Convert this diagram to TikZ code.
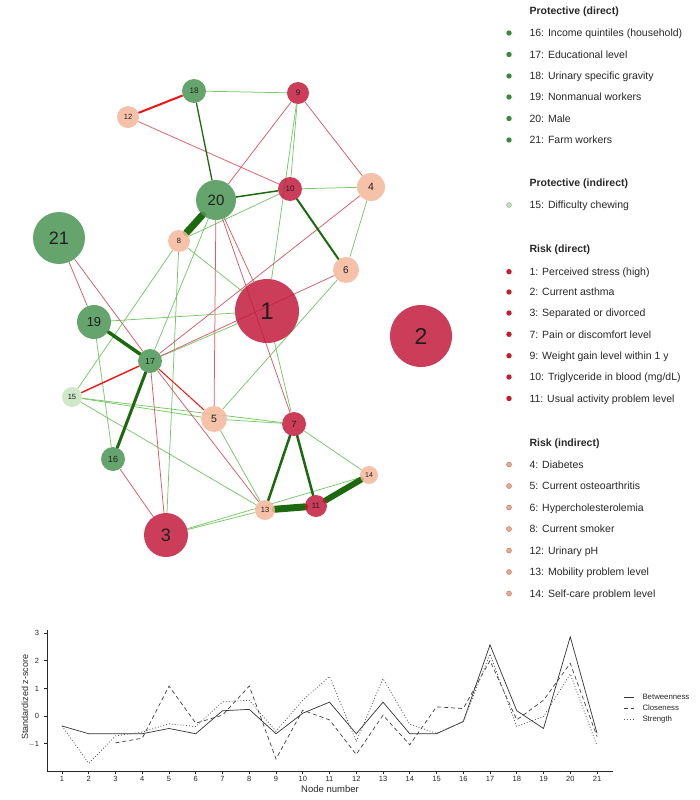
\documentclass[tikz,border=0pt]{standalone}
\usepackage{fontspec}
\setmainfont{Liberation Sans}
\usetikzlibrary{backgrounds}
\definecolor{cRD}{RGB}{194,28,60}
\definecolor{cRI}{RGB}{244,184,154}
\definecolor{cPD}{RGB}{75,150,84}
\definecolor{cPI}{RGB}{198,228,191}
\definecolor{eLG}{RGB}{120,200,105}
\definecolor{eDG}{RGB}{28,105,14}
\definecolor{eLR}{RGB}{215,92,104}
\definecolor{eBR}{RGB}{240,20,20}
\definecolor{bPD}{RGB}{58,138,60}
\definecolor{bRD}{RGB}{196,30,40}
\definecolor{bRI}{RGB}{240,168,140}
\definecolor{txt}{RGB}{40,40,40}
\tikzset{
  vtx/.style={circle, inner sep=0pt, fill opacity=0.85, text opacity=1, text=black!88},
  eg/.style={draw=eLG, line width=0.75pt},
  er/.style={draw=eLR, line width=0.75pt},
  ebr/.style={draw=eBR, line width=#1},
  edg/.style={draw=eDG, line width=#1, line cap=round},
  legtxt/.style={anchor=base west, text=txt, font=\fontsize{10.5}{12}\selectfont},
  leghead/.style={anchor=base west, text=txt, font=\fontsize{10.5}{12}\selectfont\bfseries},
  tick/.style={font=\fontsize{7.5}{9}\selectfont, text=txt},
  axl/.style={draw=black!85, line width=0.6pt},
  serB/.style={draw=black!80, line width=0.7pt},
  serC/.style={draw=black!75, line width=0.7pt, dash pattern=on 4pt off 3pt},
  serS/.style={draw=black!65, line width=0.8pt, dash pattern=on 0.9pt off 2pt},
}
\newcommand\vx[6]{\node[vtx, fill=#6, minimum size=#4*2pt, font=\fontsize{#5}{#5}\selectfont] (n#1) at (#2,#3) {#1};}
\newcommand\lbul[3]{\fill[#3] (509,#1) circle (2.7pt); \node[legtxt] (#2) at (526,#1+3.8) }
\begin{document}
\begin{tikzpicture}[x=1pt,y=-1pt]
\useasboundingbox (0,0) rectangle (699,800);
% nodes
\vx{1}{267}{311}{32}{24}{cRD}
\vx{2}{421}{336}{31}{23}{cRD}
\vx{3}{166}{535}{22}{18}{cRD}
\vx{4}{371}{187}{14}{10.5}{cRI}
\vx{5}{214}{419}{13}{10.5}{cRI}
\vx{6}{346}{270}{13}{10}{cRI}
\vx{7}{294}{424}{12}{9}{cRD}
\vx{8}{179}{241}{11}{7.5}{cRI}
\vx{9}{298}{93}{11}{8}{cRD}
\vx{10}{290}{189}{12}{8}{cRD}
\vx{11}{316}{506}{11}{7.8}{cRD}
\vx{12}{128}{117}{11}{7.5}{cRI}
\vx{13}{265}{510}{10}{7.5}{cRI}
\vx{14}{369}{475}{9}{7}{cRI}
\vx{15}{72}{397}{10}{7.5}{cPI}
\vx{16}{113}{459}{12}{9}{cPD}
\vx{17}{150}{361}{12}{8.8}{cPD}
\vx{18}{194}{91}{12}{8}{cPD}
\vx{19}{94}{322}{17}{13}{cPD}
\vx{20}{216}{200}{20}{15}{cPD}
\vx{21}{59}{238}{26}{18}{cPD}
\begin{pgfonlayer}{background}
\fill[white] (0,0) rectangle (699,800);
% thin green
\foreach \a/\b in {18/9, 9/10, 9/1, 20/17, 10/4, 10/8, 4/6, 8/15, 8/3, 8/1, 6/5, 19/1, 19/16, 17/1, 15/5, 15/7, 15/13, 5/7, 5/13, 1/7, 7/14, 3/13, 3/14}
  \draw[eg] (n\a) -- (n\b);
% thin red
\foreach \a/\b in {12/10, 9/20, 9/4, 4/17, 6/17, 20/5, 20/7, 20/1, 21/19, 21/17, 17/13, 17/3, 16/3}
  \draw[er] (n\a) -- (n\b);
% bright red
\draw[ebr=2pt] (n12) -- (n18);
\draw[ebr=1.4pt] (n17) -- (n15);
\draw[ebr=1pt] (n17) -- (n5);
% dark green
\draw[edg=1.3pt] (n18) -- (n20);
\draw[edg=1.5pt] (n20) -- (n10);
\draw[edg=2pt] (n10) -- (n6);
\draw[edg=3.5pt] (n19) -- (n17);
\draw[edg=3pt] (n17) -- (n16);
\draw[edg=2.5pt] (n7) -- (n13);
\draw[edg=2.5pt] (n7) -- (n11);
\draw[edg=7pt] (n20) -- (n8);
\draw[edg=7pt] (n13) -- (n11);
\draw[edg=6pt] (n11) -- (n14);
\end{pgfonlayer}
% legend
\node[leghead] (hPD) at (526,14.8) {Protective (direct)};
\lbul{33}{l16}{bPD} {16: Income quintiles (household)};
\lbul{54.5}{l17}{bPD} {17: Educational level};
\lbul{76}{l18}{bPD} {18: Urinary specific gravity};
\lbul{97}{l19}{bPD} {19: Nonmanual workers};
\lbul{118.5}{l20}{bPD} {20: Male};
\lbul{140}{l21}{bPD} {21: Farm workers};
\node[leghead] (hPI) at (526,186.8) {Protective (indirect)};
\fill[cPI, draw=bPD!70, line width=0.5pt] (509,205) circle (2.4pt);
\node[legtxt] (l15) at (526,208.8) {15: Difficulty chewing};
\node[leghead] (hRD) at (526,252) {Risk (direct)};
\lbul{271.7}{l1}{bRD} {1: Perceived stress (high)};
\lbul{292}{l2}{bRD} {2: Current asthma};
\lbul{313}{l3}{bRD} {3: Separated or divorced};
\lbul{334.3}{l7}{bRD} {7: Pain or discomfort level};
\lbul{355.7}{l9}{bRD} {9: Weight gain level within 1 y};
\lbul{377}{l10}{bRD} {10: Triglyceride in blood (mg/dL)};
\lbul{398.5}{l11}{bRD} {11: Usual activity problem level};
\node[leghead] (hRI) at (526,446) {Risk (indirect)};
\foreach \yy/\tt in {464.5/{4: Diabetes}, 486/{5: Current osteoarthritis}, 507.5/{6: Hypercholesterolemia}, 529/{8: Current smoker}, 550.5/{12: Urinary pH}, 572/{13: Mobility problem level}, 593.5/{14: Self-care problem level}}{
  \fill[bRI, draw=bRI!70!black, line width=0.4pt] (509,\yy) circle (2.5pt);
  \node[legtxt] at (526,\yy+3.8) {\tt};
}
% chart axes
\draw[axl] (47,630) -- (47,771) -- (613,771);
\foreach \v/\lab in {3/3, 2/2, 1/1, 0/0, -1/{$-$1}}{
  \draw[axl] (44,716-27.7*\v) -- (47,716-27.7*\v);
  \node[tick, anchor=base east] at (42.5,716-27.7*\v+2.7) {\lab};
}
\foreach \n in {1,...,21}{
  \draw[axl] (62+26.75*\n-26.75,771) -- (62+26.75*\n-26.75,774);
  \node[tick, anchor=base] at (62+26.75*\n-26.75,781) {\n};
}
\node[font=\fontsize{9.5}{11}\selectfont, text=txt, anchor=base] (xlab) at (330,792.5) {Node number};
\node[font=\fontsize{9}{11}\selectfont, text=txt, rotate=90] (ylab) at (25,697) {Standardized z-score};
\begin{scope}[shift={(35.25pt,-716pt)}, x=26.75pt, y=27.7pt]
\draw[serB] plot coordinates {(1,-0.36) (2,-0.64) (3,-0.64) (4,-0.64) (5,-0.45) (6,-0.64) (7,0.19) (8,0.24) (9,-0.64) (10,0.1) (11,0.5) (12,-0.64) (13,0.5) (14,-0.64) (15,-0.64) (16,-0.2) (17,2.57) (18,0.19) (19,-0.45) (20,2.86) (21,-0.62)};
\draw[serC] plot coordinates {(3,-0.97) (4,-0.8) (5,1.08) (6,-0.26) (7,0.03) (8,1.08) (9,-1.55) (10,0.21) (11,-0.14) (12,-1.39) (13,0.03) (14,-1.04) (15,0.33) (16,0.27) (17,2.0) (18,-0.14) (19,0.57) (20,1.9) (21,-0.74)};
\draw[serS] plot coordinates {(1,-0.36) (2,-1.71) (3,-0.72) (4,-0.58) (5,-0.28) (6,-0.38) (7,0.51) (8,0.57) (9,-0.55) (10,0.57) (11,1.43) (12,-0.92) (13,1.35) (14,-0.3) (15,-0.62) (16,-0.2) (17,2.24) (18,-0.38) (19,-0.02) (20,1.52) (21,-1.07)};
\end{scope}
% chart legend
\draw[serB] (624,697) -- (634,697);
\draw[serC] (624,708) -- (634,708);
\draw[serS] (624,719) -- (634,719);
\node[tick, anchor=base west, font=\fontsize{7.8}{9}\selectfont] (kB) at (639,699.8) {Betweenness};
\node[tick, anchor=base west, font=\fontsize{7.8}{9}\selectfont] (kC) at (639,710.8) {Closeness};
\node[tick, anchor=base west, font=\fontsize{7.8}{9}\selectfont] (kS) at (639,721.8) {Strength};
\end{tikzpicture}
\end{document}
